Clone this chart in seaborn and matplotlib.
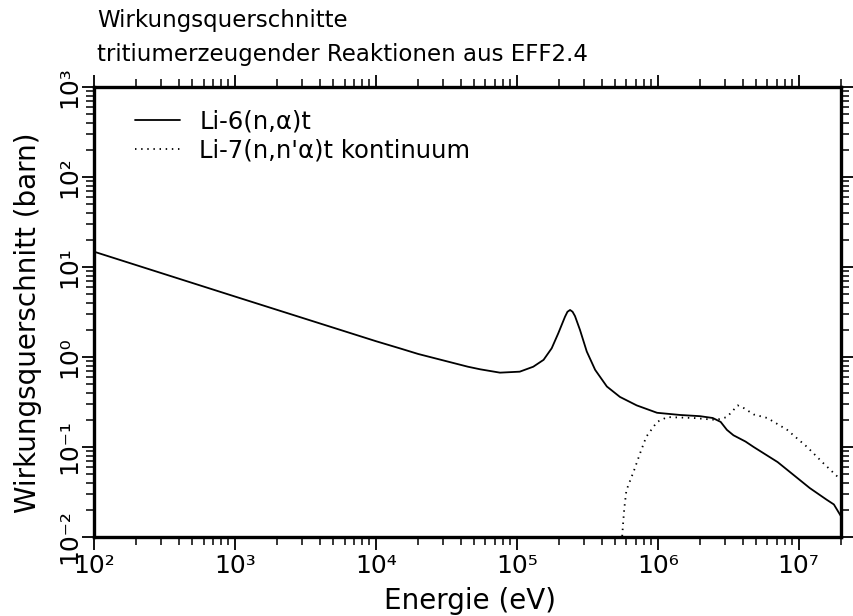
import matplotlib
matplotlib.use("Agg")
import matplotlib.pyplot as plt
from matplotlib.ticker import LogLocator, FuncFormatter, NullFormatter
import numpy as np
import pandas as pd
import seaborn as sns

# Li-6(n,alpha)t cross section (eV, barn)
li6_energy = [1e2, 1e3, 1e4, 1.5e4, 2e4, 4.5e4, 5.5e4, 7.6e4, 1.05e5, 1.31e5, 1.55e5,
              1.77e5, 1.97e5, 2.2e5, 2.29e5, 2.39e5, 2.49e5, 2.59e5, 2.81e5, 3.14e5,
              3.6e5, 4.36e5, 5.4e5, 7.1e5, 9.9e5, 1.44e6, 2.0e6, 2.46e6, 2.8e6, 3.1e6,
              3.45e6, 4.2e6, 4.8e6, 7.1e6, 1.02e7, 1.2e7, 1.58e7, 1.78e7, 2e7]
li6_sigma = [14.8, 4.7, 1.5, 1.24, 1.08, 0.78, 0.73, 0.67, 0.687, 0.78, 0.93,
             1.25, 1.83, 2.8, 3.18, 3.33, 3.18, 2.85, 2.0, 1.15,
             0.72, 0.47, 0.36, 0.29, 0.24, 0.227, 0.22, 0.21, 0.19, 0.155,
             0.135, 0.115, 0.10, 0.068, 0.043, 0.035, 0.026, 0.023, 0.017]

# Li-7(n,n'alpha)t continuum cross section (eV, barn)
li7_energy = [5.6e5, 5.7e5, 5.8e5, 6.0e5, 6.8e5, 7.5e5, 8.3e5, 9.9e5, 1.17e6,
              1.8e6, 2.6e6, 3.1e6, 3.7e6, 4.1e6, 4.8e6, 6.0e6, 8.3e6, 1.15e7,
              1.5e7, 2e7]
li7_sigma = [0.0102, 0.015, 0.021, 0.033, 0.055, 0.085, 0.13, 0.19, 0.215,
             0.21, 0.20, 0.215, 0.29, 0.27, 0.23, 0.21, 0.155, 0.10,
             0.066, 0.043]

series_labels = ["Li-6(n,\u03b1)t", "Li-7(n,n'\u03b1)t kontinuum"]
title_lines = ["Wirkungsquerschnitte", "tritiumerzeugender Reaktionen aus EFF2.4"]
x_label = "Energie (eV)"
y_label = "Wirkungsquerschnitt (barn)"

df_li6 = pd.DataFrame({"E": li6_energy, "sigma": li6_sigma})
df_li7 = pd.DataFrame({"E": li7_energy, "sigma": li7_sigma})

sns.set_theme(style="ticks")
plt.rcParams["font.family"] = ["DejaVu Sans"]
plt.rcParams["text.color"] = "black"
plt.rcParams["axes.labelcolor"] = "black"

fig = plt.figure(figsize=(8.54, 6.16), dpi=100)
ax = fig.add_axes([94 / 854, 1 - 537 / 616, (841 - 94) / 854, (537 - 87) / 616])

sns.lineplot(data=df_li6, x="E", y="sigma", ax=ax, color="black", lw=1.3,
             label=series_labels[0], sort=False)
sns.lineplot(data=df_li7, x="E", y="sigma", ax=ax, color="black", lw=1.3,
             label=series_labels[1], sort=False)
ax.lines[1].set_dashes((0.8, 2.6))

ax.set_xscale("log")
ax.set_yscale("log")
ax.set_xlim(1e2, 2e7)
ax.set_ylim(1e-2, 1e3)

ax.xaxis.set_major_locator(LogLocator(base=10, numticks=20))
ax.xaxis.set_minor_locator(LogLocator(base=10, subs=np.arange(2, 10), numticks=20))
ax.yaxis.set_major_locator(LogLocator(base=10, numticks=20))
ax.yaxis.set_minor_locator(LogLocator(base=10, subs=np.arange(2, 10), numticks=20))
ax.xaxis.set_minor_formatter(NullFormatter())
ax.yaxis.set_minor_formatter(NullFormatter())

# decade labels written as 10 with a superscript exponent
SUP = str.maketrans("-0123456789", "\u207b\u2070\u00b9\u00b2\u00b3\u2074\u2075\u2076\u2077\u2078\u2079")
pow_fmt = FuncFormatter(lambda v, p: "10" + str(int(round(np.log10(v)))).translate(SUP))
ax.xaxis.set_major_formatter(pow_fmt)
ax.yaxis.set_major_formatter(pow_fmt)

for side in ["left", "right", "top", "bottom"]:
    ax.spines[side].set_visible(True)
    ax.spines[side].set_linewidth(2.4)
    ax.spines[side].set_color("black")

ax.tick_params(which="both", direction="out", top=True, right=True,
               colors="black", labelsize=18)
ax.tick_params(which="major", length=9, width=1.3, pad=3)
ax.tick_params(which="minor", length=6, width=1.1)
ax.tick_params(axis="y", which="major", pad=0)
for lbl in ax.get_yticklabels():
    lbl.set_rotation(90)
    lbl.set_va("center")

ax.set_xlabel(x_label, fontsize=20)
ax.set_ylabel(y_label, fontsize=20)
ax.xaxis.set_label_coords(0.503, -0.111)
ax.yaxis.set_label_coords(-0.07, 0.476)

leg = ax.legend(loc="upper left", frameon=False, fontsize=17.5, handlelength=1.85,
                handletextpad=0.8, borderpad=0, borderaxespad=0,
                labelspacing=0.2, bbox_to_anchor=(0.055, 0.949))
for t in leg.get_texts():
    t.set_color("black")

fig.text(97 / 854, 1 - 20 / 616, title_lines[0], fontsize=16.5, va="center", ha="left")
fig.text(97 / 854, 1 - 54 / 616, title_lines[1], fontsize=16.5, va="center", ha="left")

fig.savefig("out.png", dpi=100, facecolor="white")
